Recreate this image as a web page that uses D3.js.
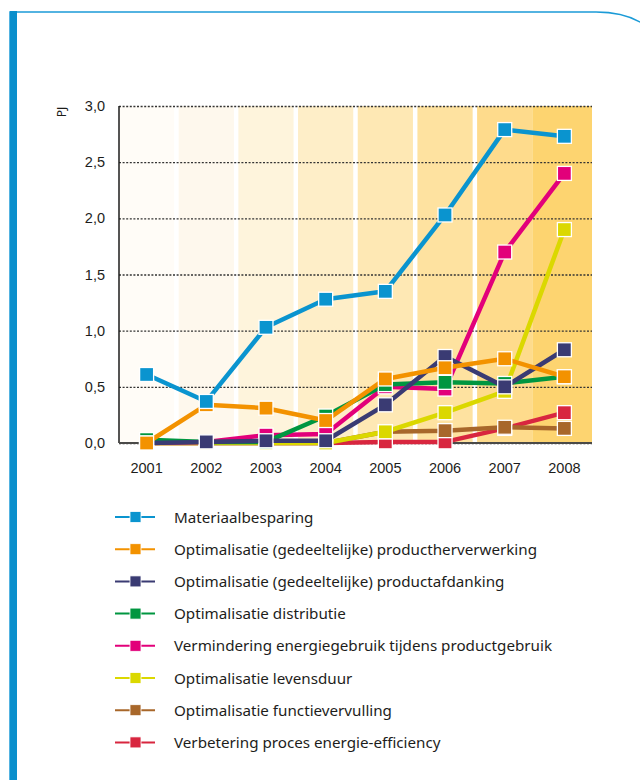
<!DOCTYPE html>
<html>
<head>
<meta charset="utf-8">
<script src="https://cdn.jsdelivr.net/npm/d3@7"></script>
<style>
  body { margin: 0; background: #fff; }
  svg { display: block; font-family: "Noto Sans", "Open Sans", sans-serif; }
</style>
</head>
<body>
<svg id="chart" width="640" height="780"></svg>
<script>
// data
const years = ["2001", "2002", "2003", "2004", "2005", "2006", "2007", "2008"];
const yTicks = [0, 0.5, 1, 1.5, 2, 2.5, 3];

const materiaal = [0.61, 0.37, 1.03, 1.28, 1.35, 2.03, 2.79, 2.73];
const herverwerking = [0.0, 0.34, 0.31, 0.2, 0.57, 0.67, 0.75, 0.59];
const afdanking = [0.0, 0.01, 0.02, 0.02, 0.34, 0.77, 0.5, 0.83];
const distributie = [0.03, 0.01, 0.01, 0.24, 0.52, 0.54, 0.53, 0.59];
const energiegebruik = [0.0, 0.01, 0.07, 0.08, 0.5, 0.48, 1.7, 2.4];
const levensduur = [0.0, 0.0, 0.0, 0.0, 0.1, 0.27, 0.46, 1.9];
const functie = [0.0, 0.0, 0.0, 0.0, 0.1, 0.11, 0.14, 0.13];
const proces = [0.0, 0.0, 0.0, 0.0, 0.01, 0.01, 0.13, 0.27];

const series = [
  { name: "Materiaalbesparing", values: materiaal, color: "#0a94cf" },
  { name: "Optimalisatie (gedeeltelijke) productherverwerking", values: herverwerking, color: "#f39200" },
  { name: "Optimalisatie (gedeeltelijke) productafdanking", values: afdanking, color: "#3a3b73" },
  { name: "Optimalisatie distributie", values: distributie, color: "#009640" },
  { name: "Vermindering energiegebruik tijdens productgebruik", values: energiegebruik, color: "#e2007a" },
  { name: "Optimalisatie levensduur", values: levensduur, color: "#dbd800" },
  { name: "Optimalisatie functievervulling", values: functie, color: "#a8672a" },
  { name: "Verbetering proces energie-efficiency", values: proces, color: "#d8263f" },
];
// order in which lines are stacked (first = bottom)
const drawOrder = [7, 6, 5, 4, 3, 2, 1, 0];
const bandColors = ["#fffcf7", "#fef8ed", "#fef4dc", "#feeec8", "#fee8b4", "#fee2a0", "#fedb8c", "#fdd470"];

const svg = d3.select("svg#chart");

// frame
svg.append("path")
  .attr("d", "M10,780 L10,12 L596,12 Q640,12 660,40")
  .attr("fill", "none")
  .attr("stroke", "#1b9bd7")
  .attr("stroke-width", 1.5);
svg.append("rect")
  .attr("x", 10).attr("y", 11)
  .attr("width", 7).attr("height", 769)
  .attr("fill", "#0a8fcc");

const margin = { top: 106, left: 119 },
  width = 473,
  height = 337;

const g = svg.append("g").attr("transform", `translate(${margin.left}, ${margin.top})`);

const x = d3.scaleBand().domain(years).range([0, width]).paddingInner(0.075).paddingOuter(0);
const y = d3.scaleLinear().domain([0, 3]).range([height, 0]);
const cx = (d) => x(d) + x.bandwidth() / 2;

// background bands
g.append("g")
  .selectAll("rect")
  .data(years)
  .join("rect")
  .attr("x", (d, i) => (i === years.length - 1 ? x(d) - x.step() * x.paddingInner() : x(d)))
  .attr("y", 0)
  .attr("width", (d, i) => (i === years.length - 1 ? x.bandwidth() + x.step() * x.paddingInner() : x.bandwidth()))
  .attr("height", height)
  .attr("fill", (d, i) => bandColors[i]);

// gridlines + y labels
const yAxis = d3.axisLeft(y).tickValues(yTicks).tickSize(-width).tickPadding(14)
  .tickFormat((d) => d3.format(".1f")(d).replace(".", ","));
g.append("g")
  .attr("class", "y axis")
  .call(yAxis)
  .call((g) => {
    g.select(".domain").remove();
    g.selectAll(".tick line")
      .attr("stroke", "#333")
      .attr("stroke-width", 1.3)
      .attr("stroke-dasharray", "2,1.6");
    g.selectAll(".tick text")
      .attr("fill", "#1d1d1b")
      .attr("font-size", "14.5px");
  });

// axis lines
g.append("line").attr("x1", 0).attr("x2", 0).attr("y1", 0).attr("y2", height)
  .attr("stroke", "#1d1d1b").attr("stroke-width", 1.5);
g.append("line").attr("x1", 0).attr("x2", width).attr("y1", height).attr("y2", height)
  .attr("stroke", "#4a4a48").attr("stroke-width", 1.8);

// x labels
const xAxis = d3.axisBottom(x).tickSize(0).tickPadding(20);
g.append("g")
  .attr("class", "x axis")
  .attr("transform", `translate(0, ${height})`)
  .call(xAxis)
  .call((g) => {
    g.select(".domain").remove();
    g.selectAll(".tick text")
      .attr("fill", "#1d1d1b")
      .attr("font-size", "14.5px");
  });

// unit label
svg.append("text")
  .attr("transform", "translate(66, 112) rotate(-90)")
  .attr("text-anchor", "middle")
  .attr("font-size", "12px")
  .attr("fill", "#1d1d1b")
  .text("PJ");

// lines + markers
const line = d3.line().x((d, i) => cx(years[i])).y((d) => y(d));
const ms = 14;
drawOrder.forEach((si) => {
  const s = series[si];
  const sg = g.append("g");
  sg.append("path")
    .datum(s.values)
    .attr("fill", "none")
    .attr("stroke", s.color)
    .attr("stroke-width", 4.5)
    .attr("stroke-linejoin", "round")
    .attr("d", line);
  sg.selectAll("rect")
    .data(s.values)
    .join("rect")
    .attr("x", (d, i) => cx(years[i]) - ms / 2)
    .attr("y", (d) => y(d) - ms / 2)
    .attr("width", ms)
    .attr("height", ms)
    .attr("fill", s.color)
    .attr("stroke", "#fff")
    .attr("stroke-width", 1.3);
});

// legend
const legend = svg.append("g").attr("transform", "translate(115, 517)");
const rowH = 32.2;
series.forEach((s, i) => {
  const row = legend.append("g").attr("transform", `translate(0, ${i * rowH})`);
  row.append("line").attr("x1", 0).attr("x2", 40).attr("y1", 0).attr("y2", 0)
    .attr("stroke", s.color).attr("stroke-width", 2);
  row.append("rect").attr("x", 15).attr("y", -5.5).attr("width", 11).attr("height", 11)
    .attr("fill", s.color).attr("stroke", "#fff").attr("stroke-width", 0.8);
  row.append("text").attr("x", 59).attr("y", 5.5)
    .attr("font-size", "15.2px")
    .attr("fill", "#1d1d1b")
    .text(s.name);
});
</script>
</body>
</html>
